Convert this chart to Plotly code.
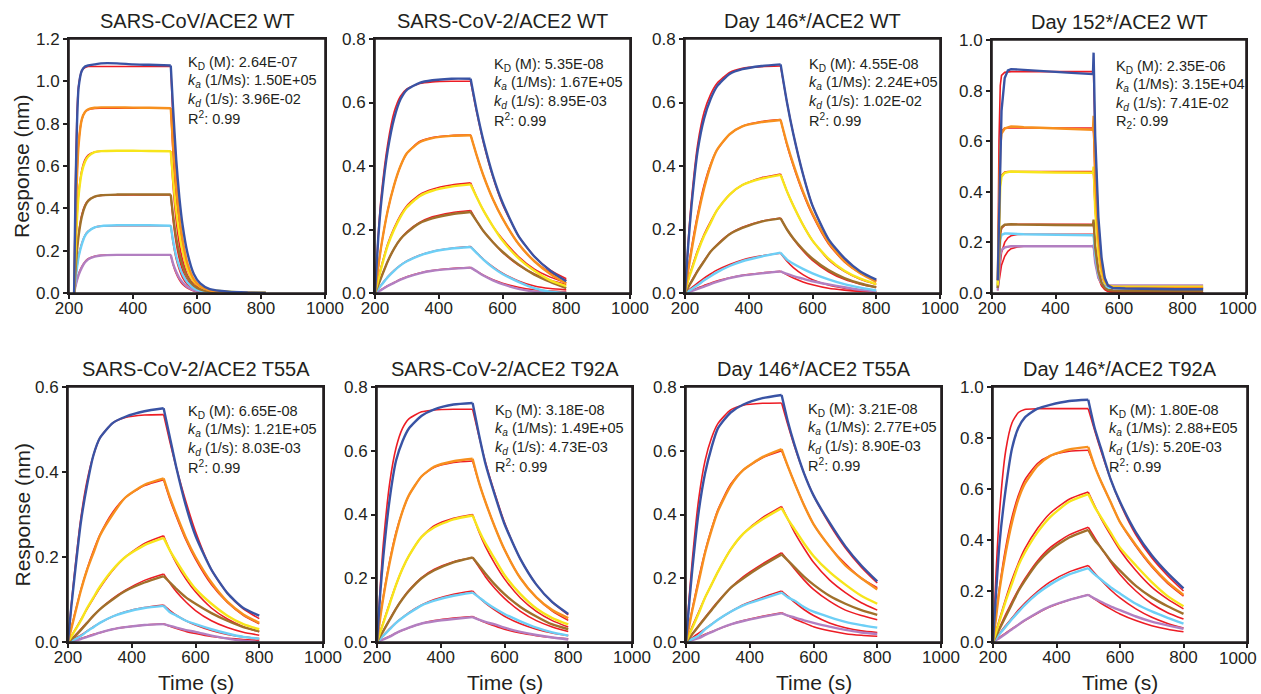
import plotly.graph_objects as go

# ---------------- time grids ----------------
t_p1 = [216, 220, 225, 230, 240, 250, 260, 280, 300, 350, 400, 450, 518, 525, 535, 545, 555, 570, 590, 610, 640, 700, 760, 815]
t_p4 = [218, 222, 226, 230, 240, 250, 260, 280, 300, 350, 400, 450, 518, 520, 525, 535, 545, 555, 565, 580, 620, 700, 780, 865]
t_std = [200, 210, 220, 240, 260, 280, 300, 340, 380, 440, 500, 520, 540, 570, 600, 650, 700, 750, 800]

# ---------------- panel 1: SARS-CoV/ACE2 WT ----------------
p1_blue = [0, 0.45, 0.8, 0.97, 1.05, 1.07, 1.075, 1.08, 1.085, 1.085, 1.08, 1.078, 1.075, 0.88, 0.63, 0.45, 0.32, 0.19, 0.09, 0.045, 0.018, 0.006, 0.002, 0.0]
p1_blue_fit = [0, 0.5, 0.85, 0.98, 1.05, 1.065, 1.07, 1.07, 1.07, 1.07, 1.07, 1.07, 1.07, 0.81, 0.54, 0.36, 0.24, 0.13, 0.06, 0.027, 0.008, 0.001, 0, 0]
p1_orange = [0, 0.3, 0.55, 0.7, 0.82, 0.855, 0.868, 0.875, 0.877, 0.877, 0.876, 0.875, 0.873, 0.7, 0.5, 0.36, 0.25, 0.14, 0.065, 0.032, 0.013, 0.004, 0.001, 0]
p1_orange_fit = [0, 0.3, 0.56, 0.71, 0.82, 0.855, 0.866, 0.872, 0.873, 0.873, 0.873, 0.873, 0.873, 0.66, 0.44, 0.3, 0.2, 0.11, 0.05, 0.022, 0.007, 0.001, 0, 0]
p1_yellow = [0, 0.18, 0.35, 0.46, 0.57, 0.62, 0.645, 0.665, 0.67, 0.672, 0.672, 0.671, 0.67, 0.54, 0.39, 0.28, 0.2, 0.115, 0.055, 0.03, 0.015, 0.006, 0.002, 0]
p1_yellow_fit = [0, 0.19, 0.36, 0.47, 0.58, 0.63, 0.652, 0.666, 0.67, 0.67, 0.67, 0.67, 0.67, 0.51, 0.34, 0.23, 0.155, 0.085, 0.038, 0.017, 0.005, 0.001, 0, 0]
p1_brown = [0, 0.1, 0.2, 0.27, 0.36, 0.41, 0.435, 0.455, 0.462, 0.465, 0.466, 0.465, 0.465, 0.37, 0.26, 0.185, 0.13, 0.075, 0.035, 0.017, 0.007, 0.002, 0, 0]
p1_brown_fit = [0, 0.11, 0.21, 0.28, 0.37, 0.415, 0.438, 0.455, 0.461, 0.463, 0.463, 0.463, 0.463, 0.35, 0.235, 0.16, 0.107, 0.059, 0.026, 0.012, 0.004, 0, 0, 0]
p1_lblue = [0, 0.06, 0.12, 0.17, 0.23, 0.27, 0.29, 0.31, 0.316, 0.32, 0.32, 0.32, 0.318, 0.25, 0.175, 0.125, 0.088, 0.05, 0.023, 0.011, 0.004, 0.001, 0, 0]
p1_lblue_fit = [0, 0.065, 0.125, 0.175, 0.235, 0.272, 0.292, 0.31, 0.316, 0.318, 0.318, 0.318, 0.318, 0.24, 0.162, 0.11, 0.073, 0.04, 0.018, 0.008, 0.002, 0, 0, 0]
p1_purple = [0, 0.03, 0.06, 0.085, 0.12, 0.145, 0.16, 0.172, 0.177, 0.18, 0.18, 0.18, 0.18, 0.14, 0.1, 0.07, 0.05, 0.028, 0.013, 0.006, 0.002, 0, 0, 0]
p1_purple_fit = [0, 0.032, 0.063, 0.09, 0.125, 0.148, 0.162, 0.174, 0.178, 0.18, 0.18, 0.18, 0.18, 0.136, 0.092, 0.062, 0.041, 0.023, 0.01, 0.004, 0.001, 0, 0, 0]

# ---------------- panel 2: SARS-CoV-2/ACE2 WT ----------------
p2_blue = [0, 0.17, 0.29, 0.45, 0.55, 0.61, 0.64, 0.662, 0.67, 0.675, 0.675, 0.57, 0.48, 0.37, 0.285, 0.18, 0.115, 0.07, 0.037]
p2_blue_fit = [0, 0.18, 0.31, 0.47, 0.57, 0.62, 0.643, 0.66, 0.665, 0.667, 0.667, 0.565, 0.475, 0.365, 0.28, 0.18, 0.115, 0.072, 0.045]
p2_orange = [0, 0.08, 0.15, 0.26, 0.34, 0.4, 0.44, 0.475, 0.488, 0.495, 0.497, 0.43, 0.37, 0.295, 0.235, 0.155, 0.1, 0.06, 0.03]
p2_orange_fit = [0, 0.08, 0.15, 0.26, 0.34, 0.4, 0.44, 0.477, 0.49, 0.496, 0.498, 0.43, 0.37, 0.295, 0.235, 0.155, 0.1, 0.065, 0.04]
p2_yellow = [0, 0.04, 0.08, 0.15, 0.2, 0.24, 0.27, 0.305, 0.322, 0.335, 0.342, 0.3, 0.26, 0.21, 0.165, 0.11, 0.07, 0.04, 0.022]
p2_yellow_fit = [0, 0.045, 0.085, 0.155, 0.205, 0.245, 0.275, 0.31, 0.327, 0.34, 0.347, 0.3, 0.26, 0.21, 0.17, 0.115, 0.075, 0.05, 0.032]
p2_brown = [0, 0.025, 0.05, 0.1, 0.14, 0.17, 0.19, 0.22, 0.235, 0.248, 0.255, 0.225, 0.195, 0.16, 0.13, 0.09, 0.058, 0.035, 0.015]
p2_brown_fit = [0, 0.026, 0.052, 0.1, 0.14, 0.17, 0.193, 0.222, 0.24, 0.253, 0.26, 0.225, 0.195, 0.16, 0.128, 0.088, 0.06, 0.04, 0.027]
p2_lblue = [0, 0.012, 0.025, 0.05, 0.07, 0.087, 0.1, 0.118, 0.13, 0.14, 0.145, 0.125, 0.105, 0.08, 0.06, 0.035, 0.015, 0.004, 0.0]
p2_lblue_fit = [0, 0.013, 0.026, 0.051, 0.071, 0.088, 0.101, 0.119, 0.131, 0.141, 0.146, 0.126, 0.106, 0.082, 0.062, 0.038, 0.022, 0.014, 0.01]
p2_purple = [0, 0.005, 0.01, 0.022, 0.032, 0.042, 0.05, 0.062, 0.07, 0.076, 0.08, 0.068, 0.055, 0.04, 0.028, 0.013, 0.004, 0.0, 0.0]
p2_purple_fit = [0, 0.005, 0.011, 0.023, 0.033, 0.043, 0.051, 0.063, 0.071, 0.077, 0.08, 0.068, 0.056, 0.042, 0.031, 0.018, 0.01, 0.006, 0.004]

# ---------------- panel 3: Day 146*/ACE2 WT ----------------
p3_blue = [0, 0.15, 0.27, 0.45, 0.55, 0.61, 0.65, 0.69, 0.705, 0.715, 0.72, 0.6, 0.5, 0.375, 0.275, 0.17, 0.11, 0.068, 0.042]
p3_blue_fit = [0, 0.16, 0.29, 0.47, 0.57, 0.625, 0.66, 0.695, 0.708, 0.713, 0.715, 0.6, 0.5, 0.375, 0.275, 0.168, 0.105, 0.065, 0.04]
p3_orange = [0, 0.07, 0.13, 0.24, 0.33, 0.4, 0.45, 0.5, 0.525, 0.538, 0.545, 0.47, 0.405, 0.32, 0.25, 0.16, 0.1, 0.062, 0.035]
p3_orange_fit = [0, 0.075, 0.14, 0.25, 0.34, 0.405, 0.45, 0.5, 0.525, 0.54, 0.546, 0.465, 0.4, 0.315, 0.245, 0.155, 0.098, 0.062, 0.038]
p3_yellow = [0, 0.04, 0.07, 0.13, 0.18, 0.22, 0.26, 0.31, 0.34, 0.36, 0.372, 0.32, 0.275, 0.215, 0.165, 0.108, 0.07, 0.045, 0.028]
p3_yellow_fit = [0, 0.04, 0.075, 0.135, 0.185, 0.225, 0.26, 0.31, 0.34, 0.363, 0.375, 0.32, 0.275, 0.215, 0.165, 0.105, 0.068, 0.043, 0.027]
p3_brown = [0, 0.018, 0.035, 0.07, 0.1, 0.13, 0.15, 0.185, 0.205, 0.225, 0.235, 0.2, 0.172, 0.137, 0.108, 0.072, 0.047, 0.03, 0.018]
p3_brown_fit = [0, 0.019, 0.037, 0.072, 0.102, 0.13, 0.152, 0.186, 0.207, 0.226, 0.236, 0.2, 0.17, 0.133, 0.103, 0.067, 0.043, 0.028, 0.018]
p3_lblue = [0, 0.006, 0.012, 0.025, 0.04, 0.053, 0.065, 0.085, 0.1, 0.115, 0.127, 0.105, 0.092, 0.076, 0.062, 0.043, 0.028, 0.017, 0.008]
p3_lblue_fit = [0, 0.008, 0.016, 0.032, 0.047, 0.06, 0.072, 0.09, 0.104, 0.117, 0.125, 0.1, 0.08, 0.058, 0.042, 0.025, 0.015, 0.008, 0.004]
p3_purple = [0, 0.003, 0.006, 0.013, 0.02, 0.028, 0.035, 0.047, 0.055, 0.062, 0.068, 0.06, 0.053, 0.045, 0.037, 0.027, 0.018, 0.01, 0.005]
p3_purple_fit = [0, 0.004, 0.008, 0.016, 0.024, 0.031, 0.038, 0.048, 0.056, 0.063, 0.068, 0.057, 0.047, 0.035, 0.026, 0.015, 0.009, 0.005, 0.003]

# ---------------- panel 4: Day 152*/ACE2 WT ----------------
p4_blue = [0.05, 0.3, 0.55, 0.72, 0.85, 0.88, 0.885, 0.885, 0.882, 0.878, 0.873, 0.87, 0.865, 0.95, 0.62, 0.3, 0.14, 0.06, 0.03, 0.02, 0.018, 0.016, 0.015, 0.015]
p4_blue_fit = [0.05, 0.6, 0.82, 0.86, 0.872, 0.875, 0.875, 0.875, 0.875, 0.875, 0.875, 0.875, 0.875, 0.86, 0.6, 0.28, 0.13, 0.06, 0.028, 0.009, 0.001, 0, 0, 0]
p4_orange = [0.05, 0.4, 0.58, 0.63, 0.65, 0.655, 0.658, 0.657, 0.655, 0.653, 0.65, 0.648, 0.645, 0.7, 0.45, 0.22, 0.1, 0.05, 0.03, 0.022, 0.02, 0.02, 0.02, 0.02]
p4_orange_fit = [0.05, 0.42, 0.6, 0.64, 0.652, 0.652, 0.652, 0.652, 0.652, 0.652, 0.652, 0.652, 0.652, 0.63, 0.45, 0.21, 0.1, 0.045, 0.02, 0.007, 0.001, 0, 0, 0]
p4_yellow = [0.03, 0.28, 0.42, 0.46, 0.475, 0.478, 0.48, 0.479, 0.478, 0.477, 0.476, 0.476, 0.475, 0.5, 0.33, 0.16, 0.08, 0.04, 0.03, 0.026, 0.025, 0.025, 0.025, 0.025]
p4_yellow_fit = [0.03, 0.3, 0.43, 0.465, 0.478, 0.48, 0.48, 0.48, 0.48, 0.48, 0.48, 0.48, 0.48, 0.465, 0.33, 0.155, 0.072, 0.033, 0.015, 0.005, 0.001, 0, 0, 0]
p4_brown = [0.02, 0.16, 0.24, 0.26, 0.27, 0.271, 0.272, 0.271, 0.27, 0.27, 0.269, 0.268, 0.268, 0.29, 0.18, 0.085, 0.04, 0.02, 0.012, 0.01, 0.009, 0.008, 0.008, 0.008]
p4_brown_fit = [0.02, 0.15, 0.23, 0.255, 0.268, 0.271, 0.272, 0.272, 0.272, 0.272, 0.272, 0.272, 0.272, 0.262, 0.19, 0.09, 0.041, 0.019, 0.009, 0.003, 0, 0, 0, 0]
p4_lblue = [0.02, 0.15, 0.21, 0.23, 0.235, 0.235, 0.234, 0.233, 0.232, 0.231, 0.23, 0.229, 0.228, 0.23, 0.15, 0.075, 0.04, 0.025, 0.02, 0.02, 0.02, 0.02, 0.02, 0.02]
p4_lblue_fit = [0.02, 0.07, 0.12, 0.16, 0.2, 0.218, 0.226, 0.231, 0.232, 0.232, 0.232, 0.232, 0.232, 0.224, 0.16, 0.077, 0.035, 0.016, 0.008, 0.003, 0, 0, 0, 0]
p4_purple = [0.01, 0.1, 0.15, 0.17, 0.18, 0.183, 0.185, 0.185, 0.185, 0.185, 0.185, 0.185, 0.185, 0.19, 0.12, 0.06, 0.04, 0.032, 0.03, 0.03, 0.03, 0.03, 0.03, 0.03]
p4_purple_fit = [0.01, 0.05, 0.085, 0.11, 0.145, 0.165, 0.175, 0.182, 0.185, 0.185, 0.185, 0.185, 0.185, 0.178, 0.128, 0.06, 0.028, 0.013, 0.006, 0.002, 0, 0, 0, 0]

# ---------------- panel 5: SARS-CoV-2/ACE2 T55A ----------------
p5_blue = [0, 0.08, 0.15, 0.28, 0.37, 0.44, 0.48, 0.515, 0.53, 0.543, 0.55, 0.48, 0.41, 0.32, 0.25, 0.17, 0.115, 0.08, 0.062]
p5_blue_fit = [0, 0.085, 0.16, 0.29, 0.38, 0.44, 0.48, 0.515, 0.528, 0.534, 0.535, 0.47, 0.41, 0.33, 0.26, 0.17, 0.115, 0.078, 0.055]
p5_orange = [0, 0.03, 0.06, 0.12, 0.17, 0.21, 0.25, 0.3, 0.34, 0.37, 0.385, 0.34, 0.3, 0.245, 0.2, 0.14, 0.095, 0.065, 0.045]
p5_orange_fit = [0, 0.032, 0.063, 0.122, 0.172, 0.215, 0.252, 0.305, 0.34, 0.368, 0.382, 0.335, 0.295, 0.24, 0.195, 0.135, 0.093, 0.063, 0.043]
p5_yellow = [0, 0.012, 0.025, 0.05, 0.08, 0.105, 0.13, 0.17, 0.2, 0.228, 0.245, 0.215, 0.19, 0.155, 0.125, 0.09, 0.062, 0.042, 0.03]
p5_yellow_fit = [0, 0.013, 0.026, 0.052, 0.078, 0.103, 0.127, 0.168, 0.2, 0.232, 0.25, 0.215, 0.185, 0.148, 0.118, 0.08, 0.054, 0.036, 0.024]
p5_brown = [0, 0.006, 0.012, 0.028, 0.045, 0.062, 0.077, 0.1, 0.12, 0.14, 0.155, 0.14, 0.125, 0.105, 0.09, 0.068, 0.05, 0.035, 0.025]
p5_brown_fit = [0, 0.007, 0.014, 0.03, 0.046, 0.062, 0.077, 0.102, 0.122, 0.145, 0.16, 0.138, 0.118, 0.094, 0.074, 0.05, 0.034, 0.023, 0.016]
p5_lblue = [0, 0.003, 0.006, 0.014, 0.025, 0.035, 0.045, 0.06, 0.07, 0.08, 0.085, 0.07, 0.062, 0.05, 0.042, 0.03, 0.02, 0.012, 0.008]
p5_lblue_fit = [0, 0.004, 0.008, 0.016, 0.026, 0.036, 0.045, 0.06, 0.071, 0.081, 0.087, 0.074, 0.063, 0.05, 0.04, 0.027, 0.018, 0.012, 0.008]
p5_purple = [0, 0.0015, 0.003, 0.007, 0.012, 0.017, 0.022, 0.03, 0.035, 0.04, 0.042, 0.038, 0.034, 0.028, 0.024, 0.015, 0.008, 0.003, 0.0]
p5_purple_fit = [0, 0.002, 0.004, 0.008, 0.013, 0.018, 0.022, 0.03, 0.035, 0.04, 0.043, 0.037, 0.032, 0.025, 0.02, 0.013, 0.009, 0.006, 0.004]

# ---------------- panel 6: SARS-CoV-2/ACE2 T92A ----------------
p6_blue = [0, 0.15, 0.27, 0.45, 0.57, 0.63, 0.67, 0.71, 0.73, 0.745, 0.75, 0.65, 0.56, 0.46, 0.37, 0.26, 0.18, 0.125, 0.088]
p6_blue_fit = [0, 0.17, 0.31, 0.5, 0.61, 0.67, 0.7, 0.722, 0.728, 0.73, 0.73, 0.645, 0.565, 0.465, 0.375, 0.26, 0.18, 0.125, 0.085]
p6_orange = [0, 0.075, 0.14, 0.25, 0.34, 0.41, 0.46, 0.52, 0.55, 0.567, 0.575, 0.5, 0.44, 0.36, 0.29, 0.2, 0.14, 0.1, 0.075]
p6_orange_fit = [0, 0.08, 0.145, 0.255, 0.345, 0.41, 0.46, 0.52, 0.548, 0.563, 0.568, 0.5, 0.44, 0.36, 0.29, 0.2, 0.14, 0.097, 0.068]
p6_yellow = [0, 0.03, 0.06, 0.12, 0.18, 0.23, 0.27, 0.33, 0.36, 0.385, 0.397, 0.35, 0.31, 0.26, 0.21, 0.15, 0.105, 0.075, 0.055]
p6_yellow_fit = [0, 0.032, 0.063, 0.123, 0.18, 0.23, 0.27, 0.33, 0.365, 0.388, 0.4, 0.345, 0.3, 0.245, 0.198, 0.138, 0.096, 0.067, 0.047]
p6_brown = [0, 0.018, 0.035, 0.07, 0.105, 0.135, 0.16, 0.2, 0.225, 0.25, 0.265, 0.24, 0.215, 0.18, 0.15, 0.11, 0.08, 0.055, 0.04]
p6_brown_fit = [0, 0.018, 0.036, 0.072, 0.106, 0.136, 0.162, 0.202, 0.228, 0.252, 0.265, 0.235, 0.205, 0.168, 0.137, 0.096, 0.067, 0.047, 0.033]
p6_lblue = [0, 0.01, 0.02, 0.04, 0.06, 0.076, 0.09, 0.115, 0.13, 0.145, 0.155, 0.14, 0.125, 0.105, 0.088, 0.065, 0.045, 0.03, 0.02]
p6_lblue_fit = [0, 0.011, 0.021, 0.042, 0.061, 0.077, 0.092, 0.116, 0.133, 0.15, 0.16, 0.14, 0.122, 0.1, 0.081, 0.057, 0.04, 0.028, 0.02]
p6_purple = [0, 0.004, 0.008, 0.017, 0.028, 0.037, 0.045, 0.058, 0.065, 0.072, 0.078, 0.07, 0.063, 0.055, 0.045, 0.032, 0.022, 0.014, 0.008]
p6_purple_fit = [0, 0.004, 0.009, 0.018, 0.028, 0.037, 0.045, 0.058, 0.067, 0.075, 0.08, 0.07, 0.061, 0.05, 0.04, 0.028, 0.02, 0.014, 0.01]

# ---------------- panel 7: Day 146*/ACE2 T55A ----------------
p7_blue = [0, 0.12, 0.23, 0.41, 0.53, 0.61, 0.67, 0.72, 0.745, 0.765, 0.775, 0.69, 0.62, 0.53, 0.46, 0.375, 0.3, 0.24, 0.19]
p7_blue_fit = [0, 0.14, 0.26, 0.45, 0.57, 0.64, 0.685, 0.728, 0.743, 0.749, 0.75, 0.68, 0.615, 0.53, 0.46, 0.37, 0.295, 0.235, 0.185]
p7_orange = [0, 0.05, 0.1, 0.19, 0.28, 0.35, 0.41, 0.49, 0.54, 0.58, 0.605, 0.55, 0.5, 0.43, 0.37, 0.3, 0.24, 0.2, 0.165]
p7_orange_fit = [0, 0.055, 0.105, 0.2, 0.285, 0.355, 0.415, 0.495, 0.54, 0.578, 0.6, 0.55, 0.5, 0.43, 0.37, 0.3, 0.245, 0.2, 0.17]
p7_yellow = [0, 0.022, 0.045, 0.09, 0.14, 0.18, 0.22, 0.29, 0.34, 0.385, 0.42, 0.385, 0.355, 0.31, 0.27, 0.22, 0.18, 0.145, 0.12]
p7_yellow_fit = [0, 0.025, 0.05, 0.095, 0.14, 0.18, 0.22, 0.29, 0.34, 0.39, 0.425, 0.385, 0.345, 0.295, 0.25, 0.195, 0.155, 0.123, 0.1]
p7_brown = [0, 0.012, 0.025, 0.05, 0.075, 0.1, 0.125, 0.17, 0.2, 0.24, 0.275, 0.255, 0.235, 0.205, 0.18, 0.145, 0.12, 0.1, 0.085]
p7_brown_fit = [0, 0.013, 0.026, 0.052, 0.078, 0.103, 0.127, 0.17, 0.205, 0.245, 0.28, 0.255, 0.23, 0.195, 0.165, 0.128, 0.1, 0.083, 0.07]
p7_lblue = [0, 0.005, 0.01, 0.02, 0.04, 0.055, 0.07, 0.095, 0.115, 0.135, 0.155, 0.14, 0.13, 0.11, 0.095, 0.078, 0.063, 0.053, 0.045]
p7_lblue_fit = [0, 0.007, 0.014, 0.028, 0.042, 0.056, 0.07, 0.095, 0.117, 0.14, 0.16, 0.143, 0.125, 0.102, 0.083, 0.06, 0.045, 0.035, 0.03]
p7_purple = [0, 0.003, 0.006, 0.012, 0.022, 0.031, 0.04, 0.055, 0.066, 0.079, 0.09, 0.083, 0.077, 0.068, 0.06, 0.048, 0.038, 0.03, 0.025]
p7_purple_fit = [0, 0.004, 0.008, 0.016, 0.024, 0.032, 0.04, 0.055, 0.067, 0.081, 0.092, 0.082, 0.072, 0.06, 0.048, 0.035, 0.026, 0.021, 0.018]

# ---------------- panel 8: Day 146*/ACE2 T92A ----------------
p8_blue = [0, 0.2, 0.38, 0.6, 0.76, 0.84, 0.88, 0.915, 0.93, 0.945, 0.95, 0.84, 0.76, 0.64, 0.55, 0.43, 0.34, 0.27, 0.21]
p8_blue_fit = [0, 0.28, 0.5, 0.75, 0.86, 0.9, 0.912, 0.915, 0.915, 0.915, 0.915, 0.83, 0.75, 0.64, 0.545, 0.42, 0.33, 0.26, 0.2]
p8_orange = [0, 0.1, 0.2, 0.35, 0.47, 0.56, 0.62, 0.69, 0.73, 0.755, 0.765, 0.69, 0.63, 0.55, 0.47, 0.38, 0.3, 0.235, 0.185]
p8_orange_fit = [0, 0.11, 0.21, 0.37, 0.49, 0.575, 0.635, 0.7, 0.73, 0.748, 0.752, 0.69, 0.63, 0.55, 0.47, 0.375, 0.295, 0.23, 0.18]
p8_yellow = [0, 0.04, 0.08, 0.16, 0.23, 0.3, 0.35, 0.43, 0.49, 0.55, 0.58, 0.53, 0.49, 0.43, 0.37, 0.3, 0.235, 0.18, 0.14]
p8_yellow_fit = [0, 0.045, 0.088, 0.17, 0.245, 0.31, 0.365, 0.445, 0.505, 0.56, 0.588, 0.535, 0.485, 0.42, 0.36, 0.28, 0.215, 0.168, 0.13]
p8_brown = [0, 0.025, 0.05, 0.1, 0.15, 0.2, 0.24, 0.31, 0.36, 0.41, 0.44, 0.4, 0.37, 0.32, 0.28, 0.22, 0.175, 0.14, 0.11]
p8_brown_fit = [0, 0.028, 0.055, 0.108, 0.158, 0.205, 0.247, 0.318, 0.37, 0.42, 0.45, 0.41, 0.37, 0.315, 0.265, 0.2, 0.15, 0.115, 0.09]
p8_lblue = [0, 0.015, 0.03, 0.06, 0.09, 0.118, 0.145, 0.19, 0.225, 0.265, 0.29, 0.265, 0.245, 0.215, 0.19, 0.15, 0.12, 0.095, 0.072]
p8_lblue_fit = [0, 0.017, 0.033, 0.065, 0.095, 0.125, 0.152, 0.198, 0.236, 0.275, 0.3, 0.27, 0.243, 0.205, 0.173, 0.13, 0.097, 0.073, 0.055]
p8_purple = [0, 0.008, 0.015, 0.032, 0.05, 0.068, 0.085, 0.115, 0.14, 0.165, 0.185, 0.17, 0.158, 0.14, 0.125, 0.1, 0.08, 0.065, 0.052]
p8_purple_fit = [0, 0.009, 0.018, 0.035, 0.052, 0.068, 0.084, 0.113, 0.138, 0.165, 0.185, 0.168, 0.152, 0.13, 0.11, 0.084, 0.064, 0.05, 0.04]

# ---------------- labels ----------------
titles = ["SARS-CoV/ACE2 WT", "SARS-CoV-2/ACE2 WT", "Day 146*/ACE2 WT", "Day 152*/ACE2 WT",
          "SARS-CoV-2/ACE2 T55A", "SARS-CoV-2/ACE2 T92A", "Day 146*/ACE2 T55A", "Day 146*/ACE2 T92A"]
kd_vals = ["2.64E-07", "5.35E-08", "4.55E-08", "2.35E-06", "6.65E-08", "3.18E-08", "3.21E-08", "1.80E-08"]
ka_vals = ["1.50E+05", "1.67E+05", "2.24E+05", "3.15E+04", "1.21E+05", "1.49E+05", "2.77E+05", "2.88+E05"]
kdis_vals = ["3.96E-02", "8.95E-03", "1.02E-02", "7.41E-02", "8.03E-03", "4.73E-03", "8.90E-03", "5.20E-03"]
r2_vals = ["0.99"] * 8
r2_labels = ["R<sup>2</sup>", "R<sup>2</sup>", "R<sup>2</sup>", "R<sub>2</sub>", "R<sup>2</sup>", "R<sup>2</sup>", "R<sup>2</sup>", "R<sup>2</sup>"]
y_max = [1.2, 0.8, 0.8, 1.0, 0.6, 0.8, 0.8, 1.0]
x_ticks = [200, 400, 600, 800, 1000]

panel_times = [t_p1, t_std, t_std, t_p4, t_std, t_std, t_std, t_std]
panel_split = [12, 10, 10, 12, 10, 10, 10, 10]      # index where dissociation starts
panel_shape = ["spline", "spline", "spline", "linear", "spline", "spline", "spline", "spline"]
panel_data = [
    [p1_purple, p1_lblue, p1_brown, p1_yellow, p1_orange, p1_blue],
    [p2_purple, p2_lblue, p2_brown, p2_yellow, p2_orange, p2_blue],
    [p3_purple, p3_lblue, p3_brown, p3_yellow, p3_orange, p3_blue],
    [p4_purple, p4_lblue, p4_brown, p4_yellow, p4_orange, p4_blue],
    [p5_purple, p5_lblue, p5_brown, p5_yellow, p5_orange, p5_blue],
    [p6_purple, p6_lblue, p6_brown, p6_yellow, p6_orange, p6_blue],
    [p7_purple, p7_lblue, p7_brown, p7_yellow, p7_orange, p7_blue],
    [p8_purple, p8_lblue, p8_brown, p8_yellow, p8_orange, p8_blue],
]
panel_fits = [
    [p1_purple_fit, p1_lblue_fit, p1_brown_fit, p1_yellow_fit, p1_orange_fit, p1_blue_fit],
    [p2_purple_fit, p2_lblue_fit, p2_brown_fit, p2_yellow_fit, p2_orange_fit, p2_blue_fit],
    [p3_purple_fit, p3_lblue_fit, p3_brown_fit, p3_yellow_fit, p3_orange_fit, p3_blue_fit],
    [p4_purple_fit, p4_lblue_fit, p4_brown_fit, p4_yellow_fit, p4_orange_fit, p4_blue_fit],
    [p5_purple_fit, p5_lblue_fit, p5_brown_fit, p5_yellow_fit, p5_orange_fit, p5_blue_fit],
    [p6_purple_fit, p6_lblue_fit, p6_brown_fit, p6_yellow_fit, p6_orange_fit, p6_blue_fit],
    [p7_purple_fit, p7_lblue_fit, p7_brown_fit, p7_yellow_fit, p7_orange_fit, p7_blue_fit],
    [p8_purple_fit, p8_lblue_fit, p8_brown_fit, p8_yellow_fit, p8_orange_fit, p8_blue_fit],
]

# ---------------- styling ----------------
W, H = 1261, 694
FONT = "Arial, Liberation Sans, Helvetica, sans-serif"
INK = "#231f20"
curve_colors = ["#b27fc1", "#6dcff6", "#a0702b", "#f7e51b", "#f7901e", "#3953a4"]
fit_color = "#ed1c24"

# plot boxes in pixels: (left, right, top, bottom)
boxes = [
    (69, 325, 39, 293), (375, 630, 39, 293), (685, 940, 39, 293), (992, 1246, 40, 293),
    (68, 323, 387, 642), (377, 632, 387, 642), (686, 941, 387, 642), (993, 1247, 387, 642),
]
# annotation block: left x, first-line y (pixels)
text_pos = [(186, 63), (492, 65), (807, 65), (1114, 67), (186, 412), (493, 411), (806, 410), (1107, 411)]
LINE_GAP = 18.3
edge_panels = {3, 7}   # right-most panels: last x label kept inside the page

fig = go.Figure()
layout = dict(
    template="none",
    width=W, height=H, margin=dict(l=0, r=0, t=0, b=0, autoexpand=False),
    paper_bgcolor="white", plot_bgcolor="white", showlegend=False,
    font=dict(family=FONT, color=INK),
)
annotations = []
shapes = []


def add_line(xs, ys, xa, ya, color, width, shape):
    fig.add_trace(go.Scatter(x=xs, y=ys, mode="lines", xaxis=xa, yaxis=ya,
                             line=dict(color=color, width=width, shape=shape,
                                       smoothing=0.6 if shape == "spline" else None),
                             hoverinfo="skip"))


for i in range(8):
    n = i + 1
    xa = "x" if n == 1 else f"x{n}"
    ya = "y" if n == 1 else f"y{n}"
    l, r, t, b = boxes[i]
    ax_common = dict(showgrid=False, zeroline=False, showline=True, mirror=True,
                     linecolor=INK, linewidth=2, ticks="outside", ticklen=4,
                     tickwidth=2, tickcolor=INK, automargin=False, layer="above traces",
                     tickfont=dict(size=17, family=FONT, color=INK))
    xt = [str(v) for v in x_ticks]
    if i in edge_panels:
        xt[-1] = ""
    layout[f"xaxis{'' if n == 1 else n}"] = dict(
        ax_common, domain=[l / W, r / W], range=[200, 1000], tickmode="array",
        tickvals=x_ticks, ticktext=xt, anchor=ya,
        ticklabeloverflow="allow", ticklabelstandoff=-5)
    layout[f"yaxis{'' if n == 1 else n}"] = dict(
        ax_common, domain=[1 - b / H, 1 - t / H], range=[0, y_max[i]], tick0=0,
        dtick=0.2, tickformat=".1f", anchor=xa, ticklabeloverflow="allow")

    # frame drawn as a shape as well (axis box)
    shapes.append(dict(type="rect", xref=f"{xa} domain", yref=f"{ya} domain",
                       x0=0, x1=1, y0=0, y1=1, line=dict(color=INK, width=1.6),
                       fillcolor="rgba(0,0,0,0)", layer="above"))

    if i in edge_panels:
        annotations.append(dict(text=str(x_ticks[-1]), x=1259 / W, y=1 - (b + 16) / H,
                                xref="paper", yref="paper", xanchor="right", yanchor="middle",
                                showarrow=False, font=dict(size=17, family=FONT, color=INK)))

    tt = panel_times[i]
    s = panel_split[i]
    shape = panel_shape[i]
    # fits underneath
    for fy in panel_fits[i]:
        add_line(tt[:s + 1], fy[:s + 1], xa, ya, fit_color, 1.6, shape)
        add_line(tt[s:], fy[s:], xa, ya, fit_color, 1.6, shape)
    # measured curves on top
    for cy, col in zip(panel_data[i], curve_colors):
        add_line(tt[:s + 1], cy[:s + 1], xa, ya, col, 2.4, shape)
        add_line(tt[s:], cy[s:], xa, ya, col, 2.4, shape)

    # title
    annotations.append(dict(text=titles[i], x=(l + r) / 2 / W, y=1 - (t - 18) / H,
                            xref="paper", yref="paper", xanchor="center", yanchor="middle",
                            showarrow=False, font=dict(size=20, family=FONT, color=INK)))
    # kinetic text
    tx, ty = text_pos[i]
    lines = [
        f"K<sub>D</sub> (M): {kd_vals[i]}",
        f"<i>k<sub>a</sub></i> (1/Ms): {ka_vals[i]}",
        f"<i>k<sub>d</sub></i> (1/s): {kdis_vals[i]}",
        f"{r2_labels[i]}: {r2_vals[i]}",
    ]
    for j, line in enumerate(lines):
        annotations.append(dict(text=line, x=tx / W, y=1 - (ty + j * LINE_GAP) / H,
                                xref="paper", yref="paper", xanchor="left", yanchor="middle",
                                showarrow=False, font=dict(size=14.5, family=FONT, color=INK)))
    # x axis titles on bottom row
    if i >= 4:
        annotations.append(dict(text="Time (s)", x=(l + r) / 2 / W, y=1 - 682 / H,
                                xref="paper", yref="paper", xanchor="center", yanchor="middle",
                                showarrow=False, font=dict(size=21, family=FONT, color=INK)))

# y axis titles
for yc in [(39 + 293) / 2, (387 + 642) / 2]:
    annotations.append(dict(text="Response (nm)", x=22 / W, y=1 - yc / H, textangle=-90,
                            xref="paper", yref="paper", xanchor="center", yanchor="middle",
                            showarrow=False, font=dict(size=21, family=FONT, color=INK)))

layout["annotations"] = annotations
layout["shapes"] = shapes
fig.update_layout(**layout)
fig.write_html("out.html", config={"displayModeBar": False},
               post_script="document.body.style.margin='0px';document.body.style.padding='0px';document.body.style.overflow='hidden';")
